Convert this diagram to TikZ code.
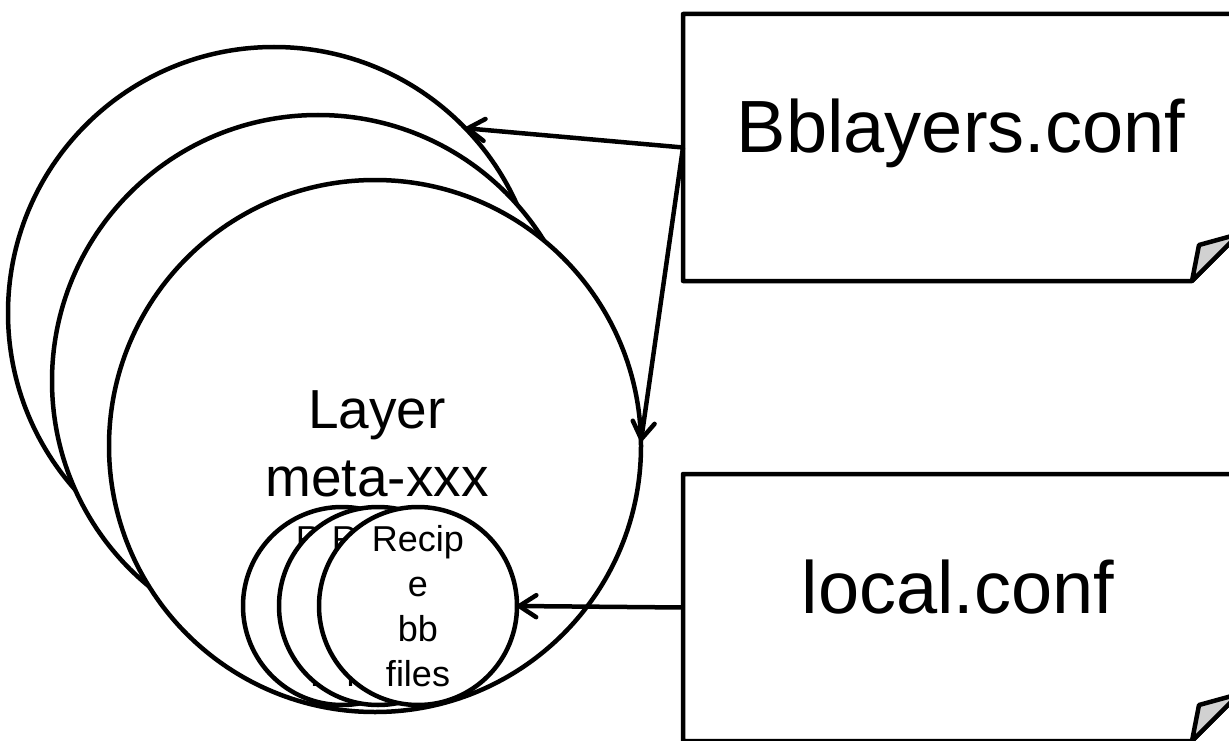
\documentclass[tikz,border=0pt]{standalone}
\usepackage{fontspec}
\setmainfont{Liberation Sans}
\usetikzlibrary{arrows.meta,calc}
\begin{document}
\begin{tikzpicture}[x=1pt,y=-1pt,
  ring/.style={circle,draw=black,fill=white,line width=4.5pt,inner sep=0pt,outer sep=0pt},
  bigring/.style={ring,minimum size=532pt},
  smallring/.style={ring,minimum size=198pt},
  conn/.style={line width=4.5pt,-{Straight Barb[length=17pt,width=22pt,line cap=round,line join=round]}},
  docbox/.style={rectangle,inner sep=0pt,outer sep=0pt,minimum width=556pt,minimum height=267pt},
  docline/.style={line width=4.5pt,line join=round,fill=white},
  flap/.style={line width=4.5pt,line join=round,fill=black!18},
  doctext/.style={font=\fontsize{74}{89}\selectfont,anchor=base,inner sep=0pt},
  layertext/.style={font=\fontsize{55}{68}\selectfont,align=center,inner sep=0pt},
  recipetext/.style={font=\fontsize{36}{45}\selectfont,align=center,inner sep=0pt}
]
\useasboundingbox (0,0) rectangle (1229,741);

% layer circles (back to front)
\node[bigring] (c1) at (274,313) {};
\node[bigring] (c2) at (318,381) {};
\node[bigring] (c3) at (375,446) {};
\node[layertext] (lt) at (377,444) {Layer\\meta-xxx};

% recipe circles (back to front)
\node[smallring] (s1) at (342,606) {};
\node[recipetext] (t1) at (342,606.5) {Recip\\e\\bb\\files};
\node[smallring] (s2) at (378,606) {};
\node[recipetext] (t2) at (378,606.5) {Recip\\e\\bb\\files};
\node[smallring] (s3) at (418,606) {};
\node[recipetext] (t3) at (418,606.5) {Recip\\e\\bb\\files};

% Bblayers.conf document
\node[docbox] (bb) at (961,147.5) {};
\draw[docline] (bb.north west) -- (bb.north east) -- ($(bb.south east)+(0,-47)$)
  -- ($(bb.south east)+(-47,0)$) -- (bb.south west) -- cycle;
\draw[flap] ($(bb.south east)+(-47,0)$) -- ($(bb.south east)+(-40,-36)$)
  -- ($(bb.south east)+(0,-47)$) -- cycle;
\node[doctext] (bbt) at (961,153) {Bblayers.conf};

% local.conf document
\node[docbox] (lc) at (961,607.5) {};
\draw[docline] (lc.north west) -- (lc.north east) -- ($(lc.south east)+(0,-47)$)
  -- ($(lc.south east)+(-47,0)$) -- (lc.south west) -- cycle;
\draw[flap] ($(lc.south east)+(-47,0)$) -- ($(lc.south east)+(-40,-36)$)
  -- ($(lc.south east)+(0,-47)$) -- cycle;
\node[doctext] (lct) at (958,613) {local.conf};

% connectors
\draw[conn] (bb.west) -- (c1.44);
\draw[conn] (bb.west) -- (c3.1.5);
\draw[conn] (lc.west) -- (s3.east);
\end{tikzpicture}
\end{document}
